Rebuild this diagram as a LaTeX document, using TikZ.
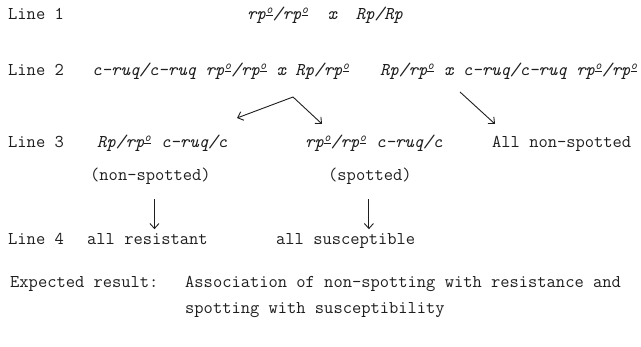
\documentclass[tikz,border=0pt]{standalone}
\usepackage{fontspec}
\usetikzlibrary{arrows.meta}
\definecolor{ink}{RGB}{30,30,30}
\newcommand{\rpo}{rp\textsuperscript{\underline{o}}}

\begin{document}
\begin{tikzpicture}[x=1pt, y=-1pt, >={Straight Barb[length=5pt,width=9pt]},
  txt/.style={anchor=base west, inner sep=0pt, text=ink, font=\ttfamily\fontsize{18}{21}\selectfont},
  gen/.style={txt, font=\ttfamily\itshape\fontsize{18}{21}\selectfont}]
  \useasboundingbox (0,0) rectangle (641,347);

  % line 1
  \node[txt] (line1) at (8,20) {Line 1};
  \node[gen] (cross1) at (247,20) {\rpo/\rpo\ \ x\ \ Rp/Rp};

  % line 2
  \node[txt] (line2) at (8,76) {Line 2};
  \node[gen] (cross2a) at (92,76) {c-ruq/c-ruq \rpo/\rpo{} x Rp/\rpo};
  \node[gen] (cross2b) at (380,76) {Rp/\rpo{} x c-ruq/c-ruq \rpo/\rpo};

  % line 3
  \node[txt] (line3) at (8,148) {Line 3};
  \node[gen] (resgen) at (97,148) {Rp/\rpo{} c-ruq/c};
  \node[gen] (susgen) at (305,148) {\rpo/\rpo{} c-ruq/c};
  \node[txt] (allnon) at (492,148) {All non-spotted};
  \node[txt] (nonspot) at (90,181) {(non-spotted)};
  \node[txt] (spot) at (328,181) {(spotted)};

  % line 4
  \node[txt] (line4) at (8,245) {Line 4};
  \node[txt] (allres) at (87,245) {all resistant};
  \node[txt] (allsus) at (276,245) {all susceptible};

  \node[txt] (expect) at (10,288) {Expected result:};
  \node[txt] (assoc1) at (185,288) {Association of non-spotting with resistance and};
  \node[txt] (assoc2) at (185,314) {spotting with susceptibility};

  % arrows
  \coordinate (split) at (293,97);
  \coordinate (tipres) at (237,118);
  \coordinate (tipsus) at (322,124);
  \coordinate (from2b) at (460,92);
  \coordinate (tipnon) at (495,124);
  \draw[->, ink, line width=0.9pt] (split) -- (tipres);
  \draw[->, ink, line width=0.9pt] (split) -- (tipsus);
  \draw[->, ink, line width=0.9pt] (from2b) -- (tipnon);
  \draw[->, ink, line width=0.9pt] (nonspot.south) ++(4,14) -- ++(0,30);
  \draw[->, ink, line width=0.9pt] (spot.south) ++(-1,14) -- ++(0,30);
\end{tikzpicture}
\end{document}
